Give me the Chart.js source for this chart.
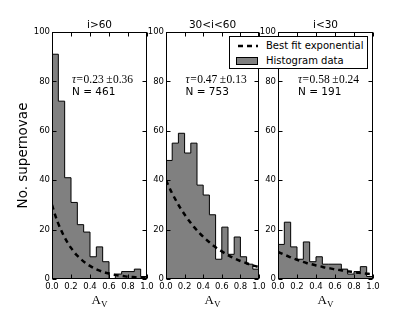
<!DOCTYPE html>
<html>
<head>
<meta charset="utf-8">
<script src="https://cdn.jsdelivr.net/npm/chart.js@4"></script>
<style>
  html, body { margin: 0; padding: 0; background: #fff; }
  #wrap { position: relative; width: 415px; height: 312px; overflow: hidden; }
  canvas { position: absolute; top: 0; }
  #legend {
    position: absolute; left: 229px; top: 36px; width: 137px; height: 31px;
    border: 1px solid #000; background: #fff;
    font-family: "DejaVu Sans", sans-serif; font-size: 10px; color: #000;
  }
  #legend .row { position: absolute; left: 6px; height: 14px; line-height: 14px; white-space: nowrap; }
  #legend svg { position: absolute; left: 0; top: 0; }
  #legend span { position: absolute; left: 30px; top: 0; }
</style>
</head>
<body>
<div id="wrap">
  <canvas id="c1" width="160" height="312" style="left:0px"></canvas>
  <canvas id="c2" width="135" height="312" style="left:140px"></canvas>
  <canvas id="c3" width="163" height="312" style="left:252px"></canvas>
  <div id="legend">
    <div class="row" style="top:2px">
      <svg width="24" height="14"><line x1="2" y1="7" x2="22" y2="7" stroke="#000" stroke-width="2.5" stroke-dasharray="5,4"/></svg>
      <span>Best fit exponential</span>
    </div>
    <div class="row" style="top:17px">
      <svg width="24" height="14"><rect x="0.5" y="3.5" width="21" height="7" fill="#808080" stroke="#000" stroke-width="1"/></svg>
      <span>Histogram data</span>
    </div>
  </div>
</div>
<script>
// histogram counts, 15 bins between 0 and 1
const BIN_MIN = 0;
const BIN_MAX = 1;
const countsHigh = [91, 72, 41, 31, 22, 19, 9, 13, 7, 0, 2, 3, 3, 4, 1];
const countsMid = [48, 55, 59, 51, 55, 38, 34, 26, 8, 21, 10, 17, 9, 6, 4];
const countsLow = [14, 23, 13, 8, 15, 7, 9, 6, 6, 6, 4, 2, 3, 5, 1];

// best fit exponential
const fitX = [0, 0.05, 0.1, 0.15, 0.2, 0.25, 0.3, 0.35, 0.4, 0.45, 0.5, 0.55, 0.6, 0.65, 0.7, 0.75, 0.8, 0.85, 0.9, 0.95, 1.0];
const fitHigh = [30, 24, 19.4, 15.6, 12.6, 10.1, 8.2, 6.6, 5.3, 4.2, 3.4, 2.7, 2.2, 1.8, 1.4, 1.2, 0.9, 0.8, 0.6, 0.5, 0.4];
const fitMid = [40, 35.9, 32.3, 29, 26.1, 23.5, 21.1, 19, 17.1, 15.4, 13.8, 12.4, 11.2, 10, 9, 8.1, 7.3, 6.6, 5.9, 5.3, 4.8];
const fitLow = [11, 10.1, 9.3, 8.5, 7.8, 7.1, 6.5, 6, 5.5, 5.1, 4.6, 4.3, 3.9, 3.6, 3.3, 3, 2.8, 2.5, 2.3, 2.1, 2.0];

const xTicks = [0, 0.2, 0.4, 0.6, 0.8, 1.0];
const yTicks = [0, 20, 40, 60, 80, 100];

const panelTitles = ['i>60', '30<i<60', 'i<30'];
const tauValues = ['0.23', '0.47', '0.58'];
const tauErrors = ['0.36', '0.13', '0.24'];
const nLabels = ['N = 461', 'N = 753', 'N = 191'];

function histPoints(counts) {
  const w = (BIN_MAX - BIN_MIN) / counts.length;
  const pts = [{ x: BIN_MIN, y: 0 }];
  counts.forEach((c, i) => pts.push({ x: BIN_MIN + i * w, y: c }));
  pts.push({ x: BIN_MAX, y: counts[counts.length - 1] });
  pts.push({ x: BIN_MAX, y: 0 });
  return pts;
}

// frame, inward ticks, titles and notes
const decorPlugin = {
  id: 'decor',
  afterDatasetsDraw(chart, args, opts) {
    const { ctx, chartArea: a, scales: { x, y } } = chart;
    ctx.save();
    ctx.strokeStyle = '#000';
    ctx.lineWidth = 1;
    ctx.setLineDash([]);
    const L = Math.round(a.left) + 0.5, R = Math.round(a.right) - 0.5;
    const T = Math.round(a.top) + 0.5, B = Math.round(a.bottom) - 0.5;
    ctx.strokeRect(L, T, R - L, B - T);
    ctx.beginPath();
    xTicks.forEach(v => {
      const px = Math.round(x.getPixelForValue(v)) + 0.5;
      ctx.moveTo(px, B); ctx.lineTo(px, B - 4);
      ctx.moveTo(px, T); ctx.lineTo(px, T + 4);
    });
    yTicks.forEach(v => {
      const py = Math.round(y.getPixelForValue(v)) + 0.5;
      ctx.moveTo(L, py); ctx.lineTo(L + 4, py);
      ctx.moveTo(R, py); ctx.lineTo(R - 4, py);
    });
    ctx.stroke();

    ctx.fillStyle = '#000';
    ctx.textAlign = 'center';
    ctx.textBaseline = 'alphabetic';
    ctx.font = '10.5px "DejaVu Sans"';
    ctx.fillText(opts.title, (a.left + a.right) / 2, 28);

    // A_V axis label
    const cx = (a.left + a.right) / 2;
    ctx.font = '13px "Liberation Serif"';
    const wA = ctx.measureText('A').width;
    ctx.font = '9px "Liberation Serif"';
    const wV = ctx.measureText('V').width;
    ctx.textAlign = 'left';
    ctx.font = '13px "Liberation Serif"';
    ctx.fillText('A', cx - (wA + wV) / 2, 304);
    ctx.font = '9px "Liberation Serif"';
    ctx.fillText('V', cx - (wA + wV) / 2 + wA, 307);

    // notes: tau = value ± error, then N
    let nx = x.getPixelForValue(0.21);
    const ty = y.getPixelForValue(80.5);
    ctx.textBaseline = 'middle';
    const parts = [
      ['italic 11.5px "Liberation Serif"', 'τ', 0.5],
      ['11.5px "Liberation Serif"', '=', 0.5],
      ['11.5px "Liberation Serif"', opts.tau, 2.5],
      ['11.5px "Liberation Serif"', '±', 0.5],
      ['11.5px "Liberation Serif"', opts.err, 0]
    ];
    parts.forEach(([f, t, gap]) => {
      ctx.font = f;
      ctx.fillText(t, nx, ty);
      nx += ctx.measureText(t).width + gap;
    });
    ctx.font = '10.5px "DejaVu Sans"';
    ctx.fillText(opts.n, x.getPixelForValue(0.21), y.getPixelForValue(75.5));
    ctx.restore();
  }
};

function makePanel(id, counts, fit, idx, yWidth, padRight, yTitle) {
  const ctx = document.getElementById(id).getContext('2d');
  return new Chart(ctx, {
    type: 'line',
    data: {
      datasets: [
        {
          data: histPoints(counts),
          stepped: 'before',
          borderColor: '#000',
          borderWidth: 1,
          backgroundColor: '#808080',
          fill: 'origin',
          pointRadius: 0,
          order: 2
        },
        {
          data: fitX.map((v, i) => ({ x: v, y: fit[i] })),
          borderColor: '#000',
          borderWidth: 2.5,
          borderDash: [5, 4],
          fill: false,
          pointRadius: 0,
          tension: 0.3,
          order: 1
        }
      ]
    },
    options: {
      responsive: false,
      animation: false,
      devicePixelRatio: 1,
      layout: { padding: { top: 32, bottom: 13, left: 0, right: padRight } },
      plugins: {
        legend: { display: false },
        tooltip: { enabled: false },
        decor: { title: panelTitles[idx], tau: tauValues[idx], err: tauErrors[idx], n: nLabels[idx] }
      },
      scales: {
        x: {
          type: 'linear',
          min: 0,
          max: 1,
          grid: { display: false, drawTicks: false },
          border: { display: false },
          ticks: {
            stepSize: 0.2,
            autoSkip: false,
            maxRotation: 0,
            padding: 3,
            color: '#000',
            font: { family: 'DejaVu Sans', size: 8.5 },
            callback: v => Number(v).toFixed(1)
          },
          afterFit: s => { s.height = 20; }
        },
        y: {
          min: 0,
          max: 100,
          grid: { display: false, drawTicks: false },
          border: { display: false },
          ticks: {
            stepSize: 20,
            padding: 2,
            color: '#000',
            font: { family: 'DejaVu Sans', size: 8.5 }
          },
          title: {
            display: !!yTitle,
            text: yTitle || '',
            color: '#000',
            font: { family: 'DejaVu Sans', size: 13.5 },
            padding: { top: 15, bottom: 0 }
          },
          afterFit: s => { s.width = yWidth; }
        }
      }
    },
    plugins: [decorPlugin]
  });
}

makePanel('c1', countsHigh, fitHigh, 0, 52, 13, 'No. supernovae');
makePanel('c2', countsMid, fitMid, 1, 26, 16, null);
makePanel('c3', countsLow, fitLow, 2, 26, 42, null);
</script>
</body>
</html>
